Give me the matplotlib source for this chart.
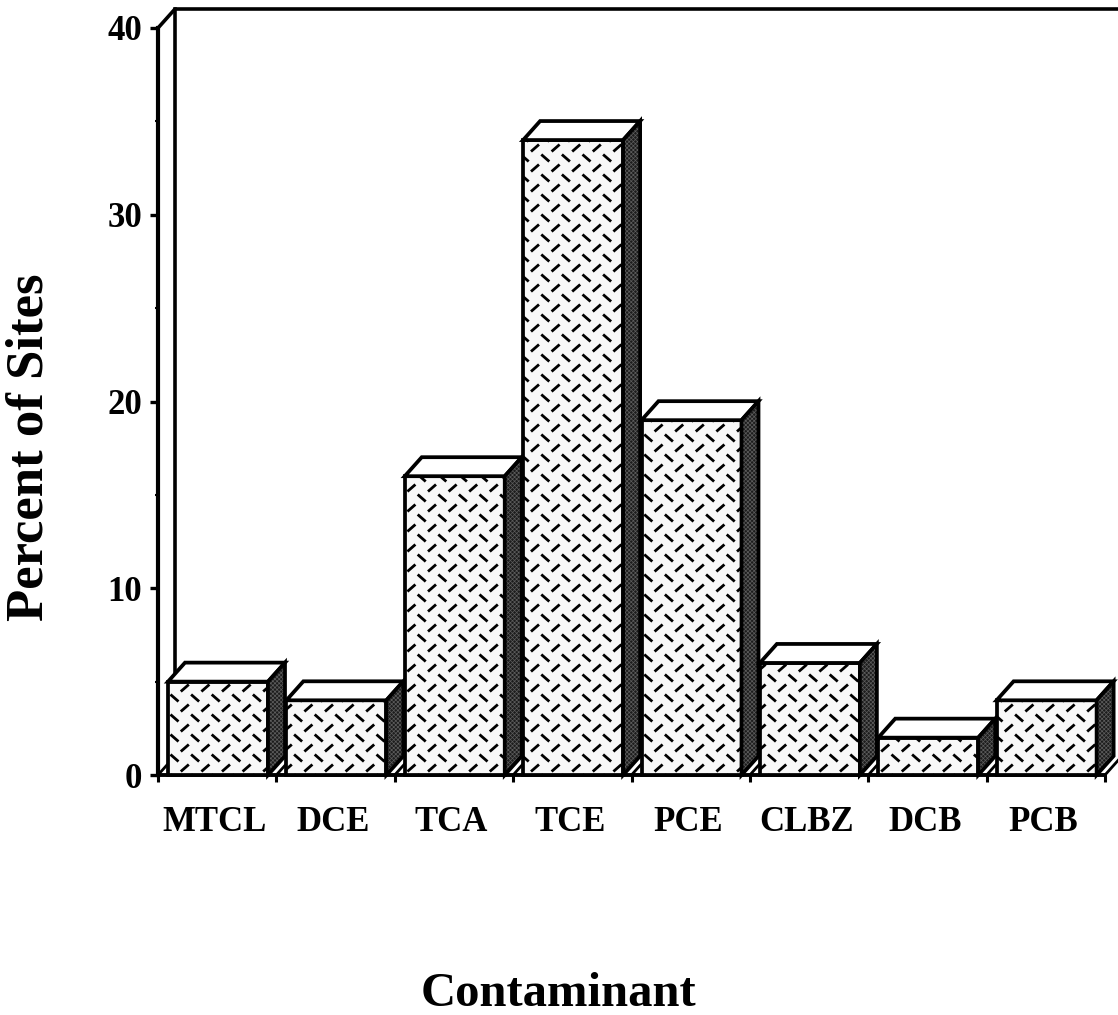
import numpy as np
import matplotlib
matplotlib.use("Agg")
import matplotlib.pyplot as plt
from matplotlib.patches import Polygon
from matplotlib.collections import LineCollection
from matplotlib.transforms import IdentityTransform

categories = ["MTCL", "DCE", "TCA", "TCE", "PCE", "CLBZ", "DCB", "PCB"]
percent_of_sites = [5, 4, 16, 34, 19, 6, 2, 4]
y_major = [0, 10, 20, 30, 40]
y_minor = [5, 15, 25, 35]

W, H = 1118, 1015
plt.rcParams["font.family"] = ["Liberation Serif", "DejaVu Serif"]
plt.rcParams["font.weight"] = "bold"
plt.rcParams["hatch.linewidth"] = 0.5
fig = plt.figure(figsize=(W / 100, H / 100), dpi=100)
L, R, B, T = 158, 1105, 775, 28
ax = fig.add_axes([L / W, 1 - B / H, (R - L) / W, (B - T) / H])
ax.set_xlim(0, 8)
ax.set_ylim(0, 40)
ax.patch.set_visible(False)

px_x = 8 / (R - L)
px_y = 40 / (B - T)
dx, dy = 17 * px_x, 19 * px_y
LW = 2.7

for s in ("top", "right"):
    ax.spines[s].set_visible(False)
ax.spines["left"].set_linewidth(3.0)
ax.spines["bottom"].set_linewidth(2.8)

# back wall, depth edges
ax.plot([0, dx, 8 + 13 * px_x], [40, 40 + dy, 40 + dy], color="k", lw=2.6, clip_on=False, zorder=1)
ax.plot([dx, dx], [dy, 40 + dy], color="k", lw=2.6, clip_on=False, zorder=1)
for t in range(9):
    ax.plot([t, t + dx], [0, dy], color="k", lw=2.0, clip_on=False, zorder=1)

# dashed lattice texture in pixel space
def texture():
    segs = []
    for i in range(-10, 60):
        for j in range(-5, 60):
            cx, cy = 535 + 20.6 * (i - 20), 168 + 20.0 * (j - 5)
            sy = H - cy
            segs.append([(cx - 4, sy - 3.5), (cx + 4, sy + 3.5)])
            segs.append([(cx + 10.3 - 4, sy + 10 + 3.5), (cx + 10.3 + 4, sy + 10 - 3.5)])
    return segs
tex = texture()

off, width = 10 * px_x, 100 * px_x
for i, v in enumerate(percent_of_sites):
    x0 = i + off
    x1 = x0 + width
    bar = ax.bar(x0, v, width=width, align="edge", facecolor="#f8f8f8",
                 edgecolor="k", linewidth=LW, zorder=3 + i, clip_on=False)[0]
    lc = LineCollection(tex, colors="k", linewidths=2.0, transform=IdentityTransform(),
                        zorder=3 + i, capstyle="butt")
    ax.add_collection(lc, autolim=False)
    lc.set_clip_path(bar)
    ax.add_patch(Polygon([(x0, v), (x0 + dx, v + dy), (x1 + dx, v + dy), (x1, v)], closed=True,
                         facecolor="white", edgecolor="k", linewidth=LW, zorder=3 + i, clip_on=False))
    side = [(x1, 0), (x1 + dx, dy), (x1 + dx, v + dy), (x1, v)]
    ax.add_patch(Polygon(side, closed=True, facecolor="#1c1c1c", edgecolor="#5c5c5c",
                         hatch="xxxxxxxx", linewidth=0, zorder=3 + i, clip_on=False))
    ax.add_patch(Polygon(side, closed=True, facecolor="none", edgecolor="k",
                         linewidth=LW, zorder=3 + i, clip_on=False))

ax.set_yticks(y_major)
ax.set_yticks(y_minor, minor=True)
ax.set_yticklabels([str(v) for v in y_major], fontsize=25, fontweight="bold")
ax.tick_params(axis="y", which="major", length=5.5, width=2.4, pad=6)
ax.tick_params(axis="y", which="minor", length=2, width=1.5)
ax.set_xticks(range(9))
ax.set_xticklabels([""] * 9)
ax.set_xticks(np.arange(8) + 0.5 - 0.02, minor=True)
ax.set_xticklabels(categories, minor=True, fontsize=25, fontweight="bold")
ax.tick_params(axis="x", which="major", length=5, width=2.2)
ax.tick_params(axis="x", which="minor", length=0, pad=22)

fig.text(558 / W, 1 - 994 / H, "Contaminant", fontsize=35, fontweight="bold", ha="center", va="center")
fig.text(30 / W, 1 - 447 / H, "Percent of Sites", fontsize=38, fontweight="bold",
         rotation=90, ha="center", va="center")

fig.savefig("out.png", dpi=100)
